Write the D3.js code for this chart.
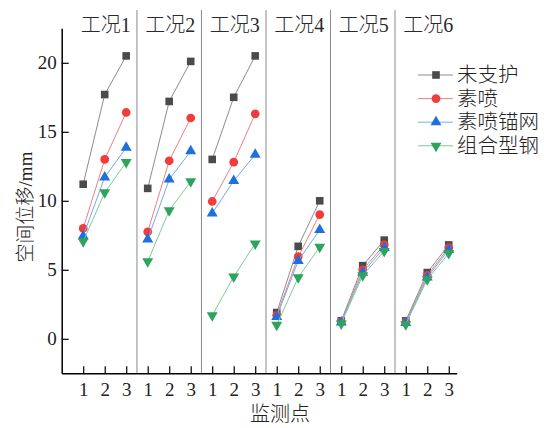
<!DOCTYPE html>
<html>
<head>
<meta charset="utf-8">
<script src="https://cdn.jsdelivr.net/npm/d3@7"></script>
<style>
  body { margin: 0; background: #fff; }
  svg { display: block; font-family: "Liberation Serif", "Times New Roman", "Noto Sans CJK SC", serif; font-weight: 300; }
</style>
</head>
<body>
<div id="chart"></div>
<script>
// data
var panels = ["工况1", "工况2", "工况3", "工况4", "工况5", "工况6"];
var points = ["1", "2", "3"];
var seriesNames = ["未支护", "素喷", "素喷锚网", "组合型钢"];
// per series: 6 panels x 3 monitoring points
var unsupported = [11.2, 17.7, 20.5,  10.9, 17.2, 20.1,  13.0, 17.5, 20.5,  1.9, 6.7, 10.0,  1.3, 5.3, 7.15,  1.3, 4.8, 6.8];
var shotcrete   = [8.0, 13.0, 16.4,   7.75, 12.9, 16.0,  9.95, 12.8, 16.3,  1.7, 5.95, 9.0,  1.25, 5.0, 6.8,  1.2, 4.6, 6.6];
var shotMesh    = [7.45, 11.7, 13.85, 7.2, 11.55, 13.6,  9.1, 11.45, 13.35, 1.6, 5.65, 7.9,  1.2, 4.8, 6.6,   1.15, 4.45, 6.45];
var steelSet    = [7.05, 10.6, 12.8,  5.6, 9.3, 11.4,    1.7, 4.5, 6.9,     1.0, 4.45, 6.65, 1.1, 4.6, 6.35,  1.05, 4.3, 6.2];
var yTicks = [0, 5, 10, 15, 20];

var seriesValues = [unsupported, shotcrete, shotMesh, steelSet];
var markColors = ["#4b4b4b", "#f03c3c", "#1f6fdc", "#2ea35c"];
var lineColors = ["#8c8c8c", "#f07f7f", "#78a8ec", "#7ccb98"];
var shapes = [d3.symbolSquare, d3.symbolCircle, d3.symbolTriangle, d3.symbolTriangle];
var sizes = [58, 60, 52, 52];
var rot = [0, 0, 0, 180];

var W = 544, H = 428;
var svg = d3.select("#chart").append("svg")
  .attr("width", W).attr("height", H);

var x = d3.scaleLinear().domain([0, 18.37]).range([61.7, 456.7]);
var y = d3.scaleLinear().domain([-2.5, 22.5]).range([373.3, 28.3]);

// panel separators
var seps = d3.range(1, panels.length).map(function (p) { return p * 3 + 0.5; });
svg.selectAll(".sep").data(seps).enter().append("line")
  .attr("class", "sep")
  .attr("x1", function (d) { return x(d); }).attr("x2", function (d) { return x(d); })
  .attr("y1", 10).attr("y2", y(-2.5))
  .attr("stroke", "#8a8a8a").attr("stroke-width", 1);

// panel titles
svg.selectAll(".ptitle").data(panels).enter().append("text")
  .attr("class", "ptitle")
  .attr("x", function (d, i) { return x(i * 3 + 2) + 1; })
  .attr("y", 32)
  .attr("text-anchor", "middle")
  .attr("font-size", 20)
  .attr("fill", "#2a2a2a")
  .text(function (d) { return d; });

// x axis: 18 ticks labelled 1 2 3 per panel
var xTickPos = d3.range(1, panels.length * 3 + 1);
var xAxis = d3.axisBottom(x).tickValues(xTickPos)
  .tickSize(-7).tickSizeOuter(0)
  .tickFormat(function (d) { return points[(d - 1) % 3]; });
var gx = svg.append("g").attr("transform", "translate(0," + y(-2.5) + ")").call(xAxis);
gx.select(".domain").attr("stroke", "#000").attr("stroke-width", 1.5);
gx.selectAll(".tick line").attr("stroke", "#000").attr("stroke-width", 1.2);
gx.selectAll(".tick text").attr("font-size", 19).attr("fill", "#222").attr("dy", "1.05em")
  .attr("font-family", "Liberation Serif, serif");

// y axis
var yAxis = d3.axisLeft(y).tickValues(yTicks).tickSize(-7).tickSizeOuter(0).tickPadding(5);
var gy = svg.append("g").attr("transform", "translate(" + x(0) + ",0)").call(yAxis);
gy.select(".domain").attr("stroke", "#000").attr("stroke-width", 1.5);
gy.selectAll(".tick line").attr("stroke", "#000").attr("stroke-width", 1.2);
gy.selectAll(".tick text").attr("font-size", 19).attr("fill", "#222")
  .attr("font-family", "Liberation Serif, serif");

// axis titles
svg.append("text")
  .attr("transform", "translate(32,207) rotate(-90)")
  .attr("text-anchor", "middle")
  .attr("font-size", 19).attr("fill", "#222")
  .text("空间位移/mm");
svg.append("text")
  .attr("x", 280).attr("y", 421)
  .attr("text-anchor", "middle")
  .attr("font-size", 20).attr("fill", "#222")
  .text("监测点");

// lines, one polyline per panel per series
var line = d3.line()
  .x(function (d) { return x(d.pos); })
  .y(function (d) { return y(d.v); });

seriesValues.forEach(function (vals, s) {
  var pts = vals.map(function (v, i) { return { pos: i + 1, v: v, panel: Math.floor(i / 3) }; });
  var byPanel = d3.groups(pts, function (d) { return d.panel; });
  var g = svg.append("g");
  g.selectAll("path.ln").data(byPanel).enter().append("path")
    .attr("class", "ln")
    .attr("d", function (d) { return line(d[1]); })
    .attr("fill", "none")
    .attr("stroke", lineColors[s])
    .attr("stroke-width", 1);
  g.selectAll("path.mk").data(pts).enter().append("path")
    .attr("class", "mk")
    .attr("d", d3.symbol().type(shapes[s]).size(sizes[s]))
    .attr("transform", function (d) {
      return "translate(" + x(d.pos) + "," + y(d.v) + ") rotate(" + rot[s] + ")";
    })
    .attr("fill", markColors[s]);
});

// legend
var leg = svg.append("g");
seriesNames.forEach(function (name, s) {
  var ly = 75 + s * 23.6;
  leg.append("line")
    .attr("x1", 418).attr("x2", 453).attr("y1", ly).attr("y2", ly)
    .attr("stroke", lineColors[s]).attr("stroke-width", 1);
  leg.append("path")
    .attr("d", d3.symbol().type(shapes[s]).size(sizes[s]))
    .attr("transform", "translate(436," + ly + ") rotate(" + rot[s] + ")")
    .attr("fill", markColors[s]);
  leg.append("text")
    .attr("x", 457).attr("y", ly + 7)
    .attr("font-size", 20.5).attr("fill", "#222")
    .text(name);
});
</script>
</body>
</html>
